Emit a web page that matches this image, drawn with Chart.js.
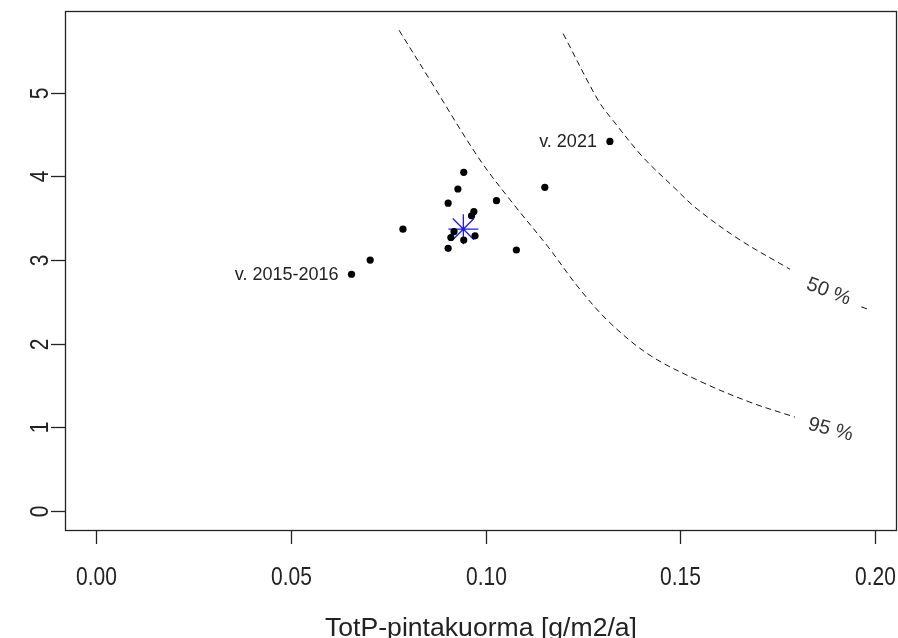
<!DOCTYPE html>
<html>
<head>
<meta charset="utf-8">
<script src="https://cdn.jsdelivr.net/npm/chart.js@4/dist/chart.umd.min.js"></script>
<style>
  html, body { margin: 0; padding: 0; background: #fff; overflow: hidden; }
  #wrap { width: 898px; height: 638px; }
  canvas { display: block; }
</style>
</head>
<body>
<div id="wrap"><canvas id="plot" width="898" height="638"></canvas></div>
<script>
// havainnot (x = TotP-pintakuorma, y = pystyakseli)
const pointX = [0.0656, 0.0704, 0.0788, 0.0904, 0.0904, 0.0911, 0.0919, 0.0929, 0.0944, 0.0944, 0.0964, 0.0970, 0.0973, 0.1028, 0.1079, 0.1152, 0.1319];
const pointY = [2.83, 3.00, 3.37, 3.14, 3.68, 3.27, 3.34, 3.85, 4.05, 3.24, 3.53, 3.58, 3.29, 3.71, 3.12, 3.87, 4.42];

// keskiarvo (sininen tähti)
const meanX = [0.0943];
const meanY = [3.37];

// 95 % ja 50 % käyrät
const curve95X = [0.0778, 0.0858, 0.0981, 0.1063, 0.1160, 0.1242, 0.1319, 0.1422, 0.1550, 0.1678, 0.1794];
const curve95Y = [5.75, 5.15, 4.23, 3.72, 3.16, 2.65, 2.25, 1.86, 1.55, 1.30, 1.12];
const curve50X = [0.1199, 0.1289, 0.1327, 0.1404, 0.1481, 0.1543, 0.1653, 0.1781];
const curve50Y = [5.71, 4.91, 4.67, 4.23, 3.88, 3.61, 3.24, 2.89];
const tail50X = [0.1964, 0.1982];
const tail50Y = [2.44, 2.41];

const curveLabels = ['50 %', '95 %'];
const curveLabelX = [0.1880, 0.1885];
const curveLabelY = [2.62, 0.97];
const curveLabelAngle = [21, 15];

const pointLabels = ['v. 2015-2016', 'v. 2021'];
const pointLabelIndex = [0, 16];

const xTicks = [0, 0.05, 0.10, 0.15, 0.20];
const xTickLabels = ['0.00', '0.05', '0.10', '0.15', '0.20'];
const yTicks = [0, 1, 2, 3, 4, 5];
const yTickLabels = ['0', '1', '2', '3', '4', '5'];
const xTitle = 'TotP-pintakuorma [g/m2/a]';

function toXY(xs, ys) {
    return xs.map((x, i) => ({ x: x, y: ys[i] }));
}

const FONT = '"Liberation Sans", Arial, sans-serif';

// teksti venytettynä pystysuunnassa kuten R:n kuvassa
function tallText(ctx, t, x, y, sy) {
    ctx.save();
    ctx.translate(x, y);
    ctx.scale(1, sy);
    ctx.fillText(t, 0, 0);
    ctx.restore();
}

// R-tyylinen laatikko, tikit ja tekstit
const rAxes = {
    id: 'rAxes',
    afterDraw(chart) {
        const ctx = chart.ctx;
        const a = chart.chartArea;
        const xs = chart.scales.x;
        const ys = chart.scales.y;
        ctx.save();
        ctx.strokeStyle = '#222';
        ctx.lineWidth = 1.3;
        ctx.strokeRect(a.left + 0.5, a.top + 0.5, a.right - a.left, a.bottom - a.top);

        ctx.fillStyle = '#222';
        ctx.font = '21px ' + FONT;
        ctx.textAlign = 'center';
        ctx.textBaseline = 'middle';
        xTicks.forEach((v, i) => {
            const px = Math.round(xs.getPixelForValue(v)) + 0.5;
            ctx.beginPath();
            ctx.moveTo(px, a.bottom);
            ctx.lineTo(px, a.bottom + 14);
            ctx.stroke();
            tallText(ctx, xTickLabels[i], px, a.bottom + 48, 1.2);
        });
        yTicks.forEach((v, i) => {
            const py = Math.round(ys.getPixelForValue(v)) + 0.5;
            ctx.beginPath();
            ctx.moveTo(a.left, py);
            ctx.lineTo(a.left - 14, py);
            ctx.stroke();
            ctx.save();
            ctx.translate(a.left - 24, py);
            ctx.rotate(-Math.PI / 2);
            ctx.scale(1, 1.2);
            ctx.fillText(yTickLabels[i], 0, 0);
            ctx.restore();
        });
        ctx.font = '22px ' + FONT;
        const tw = ctx.measureText(xTitle).width;
        ctx.save();
        ctx.translate(481, a.bottom + 99);
        ctx.scale(312 / tw, 1.15);
        ctx.fillText(xTitle, 0, 0);
        ctx.restore();

        // pisteiden nimet
        ctx.font = '18px ' + FONT;
        ctx.textAlign = 'right';
        pointLabels.forEach((t, i) => {
            const k = pointLabelIndex[i];
            const px = xs.getPixelForValue(pointX[k]);
            const py = ys.getPixelForValue(pointY[k]);
            ctx.fillText(t, px - 13, py + 1);
        });

        // käyrien nimet
        ctx.font = '20px ' + FONT;
        ctx.textAlign = 'center';
        ctx.fillStyle = '#333';
        curveLabels.forEach((t, i) => {
            ctx.save();
            ctx.translate(xs.getPixelForValue(curveLabelX[i]), ys.getPixelForValue(curveLabelY[i]));
            ctx.rotate(curveLabelAngle[i] * Math.PI / 180);
            ctx.fillText(t, 0, 0);
            ctx.restore();
        });
        ctx.restore();
    }
};

const dashed = {
    showLine: true,
    borderColor: '#111',
    borderWidth: 1,
    borderDash: [6, 4],
    pointRadius: 0,
    tension: 0.35,
    fill: false
};

new Chart(document.getElementById('plot'), {
    type: 'scatter',
    data: {
        datasets: [
            Object.assign({ data: toXY(curve95X, curve95Y) }, dashed),
            Object.assign({ data: toXY(curve50X, curve50Y) }, dashed),
            Object.assign({ data: toXY(tail50X, tail50Y) }, dashed),
            {
                data: toXY(pointX, pointY),
                pointRadius: 3.6,
                pointBackgroundColor: '#000',
                pointBorderWidth: 0
            },
            {
                data: toXY(meanX, meanY),
                pointStyle: 'star',
                pointRadius: 15,
                pointBorderColor: '#1a1aff',
                pointBorderWidth: 1.3,
                pointBackgroundColor: 'rgba(0,0,0,0)'
            }
        ]
    },
    options: {
        responsive: false,
        animation: false,
        layout: { autoPadding: false, padding: { left: 65, top: 11, right: 2, bottom: 108 } },
        plugins: { legend: { display: false }, tooltip: { enabled: false } },
        scales: {
            x: { type: 'linear', display: false, min: -0.0079, max: 0.2053 },
            y: { type: 'linear', display: false, min: -0.23, max: 5.98 }
        }
    },
    plugins: [rAxes]
});
</script>
</body>
</html>
